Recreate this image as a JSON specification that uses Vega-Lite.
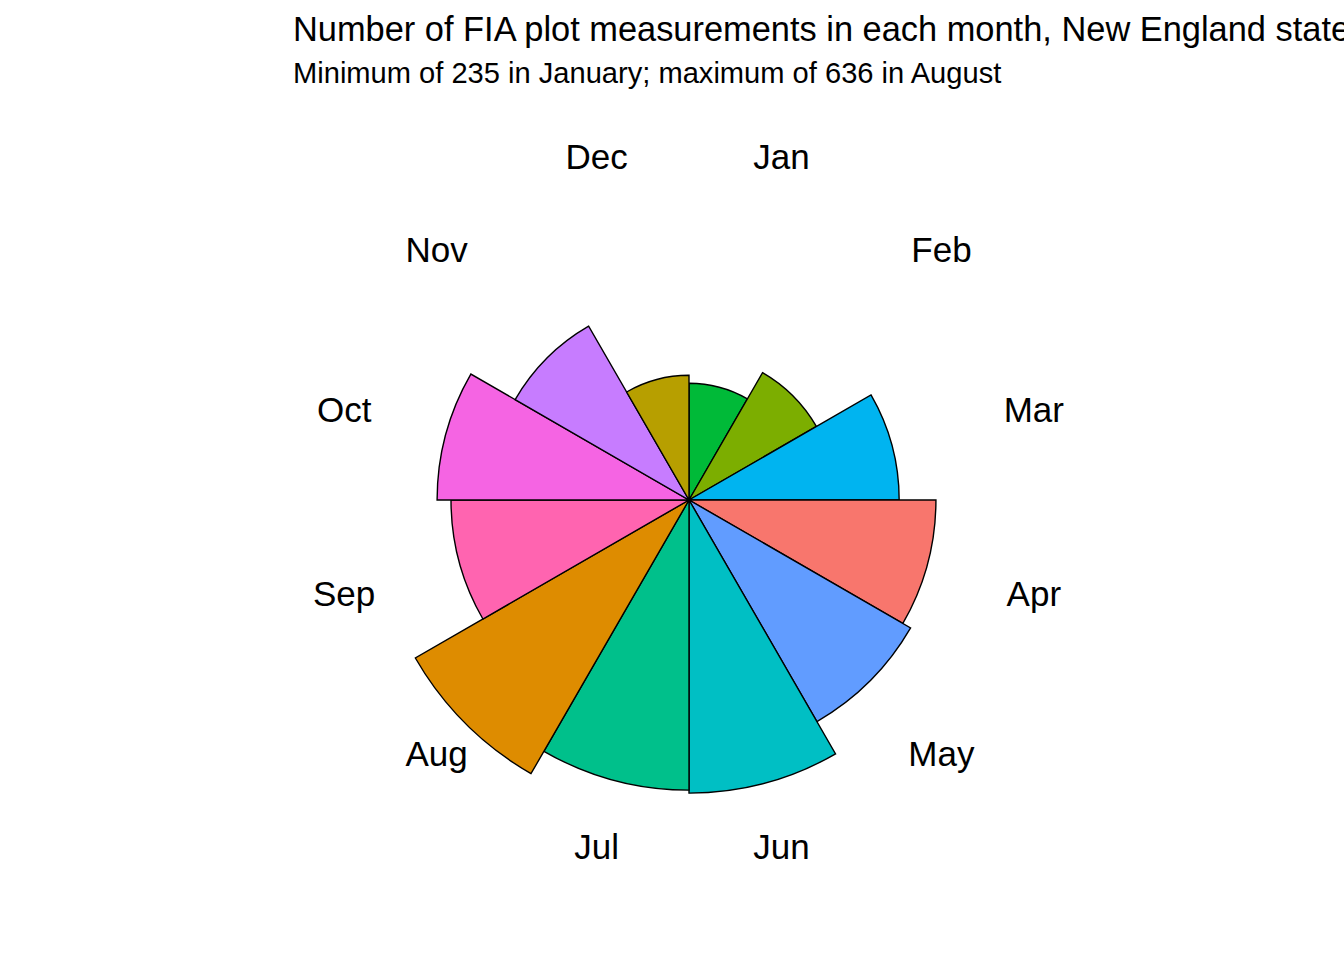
{
  "$schema": "https://vega.github.io/schema/vega-lite/v6.json",
  "autosize": "none",
  "padding": {"left": 293, "top": 104, "right": 259, "bottom": 64},
  "width": 792,
  "height": 792,
  "background": "white",
  "title": {
    "text": "Number of FIA plot measurements in each month, New England states",
    "subtitle": "Minimum of 235 in January; maximum of 636 in August",
    "anchor": "start",
    "frame": "group",
    "limit": 2000,
    "font": "Liberation Sans",
    "fontSize": 34.4,
    "fontWeight": "normal",
    "color": "black",
    "subtitleFont": "Liberation Sans",
    "subtitleFontSize": 29.1,
    "subtitleColor": "black",
    "subtitlePadding": 12,
    "offset": 14
  },
  "data": {
    "values": [
      {"month": "Jan", "m": 1, "n": 235},
      {"month": "Feb", "m": 2, "n": 296},
      {"month": "Mar", "m": 3, "n": 423},
      {"month": "Apr", "m": 4, "n": 497},
      {"month": "May", "m": 5, "n": 515},
      {"month": "Jun", "m": 6, "n": 590},
      {"month": "Jul", "m": 7, "n": 584},
      {"month": "Aug", "m": 8, "n": 636},
      {"month": "Sep", "m": 9, "n": 479},
      {"month": "Oct", "m": 10, "n": 507},
      {"month": "Nov", "m": 11, "n": 404},
      {"month": "Dec", "m": 12, "n": 251}
    ]
  },
  "transform": [
    {"aggregate": [{"op": "count", "as": "w"}], "groupby": ["month", "m", "n"]}
  ],
  "layer": [
    {
      "transform": [
        {"stack": "w", "groupby": [], "sort": [{"field": "m", "order": "ascending"}], "as": ["t0", "t1"]}
      ],
      "mark": {"type": "arc", "stroke": "black", "strokeWidth": 1.4},
      "encoding": {
        "theta": {"field": "t0", "type": "quantitative", "scale": {"domain": [0, 12]}},
        "theta2": {"field": "t1"},
        "radius": {"field": "n", "type": "quantitative",
                   "scale": {"type": "linear", "domain": [0, 636], "range": [0, 316], "zero": true}},
        "color": {"field": "month", "type": "nominal", "legend": null,
                  "scale": {
                    "domain": ["Apr", "Aug", "Dec", "Feb", "Jan", "Jul", "Jun", "Mar", "May", "Nov", "Oct", "Sep"],
                    "range": ["#F8766D", "#DE8C00", "#B79F00", "#7CAE00", "#00BA38", "#00C08B", "#00BFC4", "#00B4F0", "#619CFF", "#C77CFF", "#F564E3", "#FF64B0"]
                  }}
      }
    },
    {
      "mark": {"type": "text", "radius": 357, "dy": 3, "font": "Liberation Sans", "fontSize": 35,
               "color": "black", "align": "center", "baseline": "middle"},
      "encoding": {
        "theta": {"field": "w", "type": "quantitative", "stack": true},
        "order": {"field": "m", "type": "quantitative", "sort": "ascending"},
        "text": {"field": "month", "type": "nominal"}
      }
    }
  ],
  "config": {
    "view": {"stroke": null}
  }
}
